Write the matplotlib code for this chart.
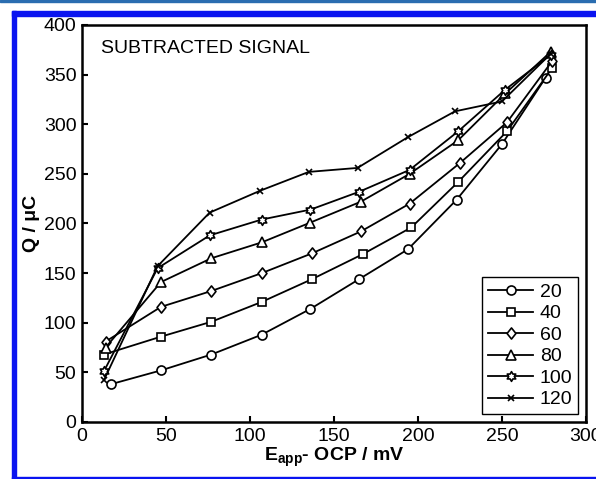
import numpy as np
import matplotlib
matplotlib.use("Agg")
import matplotlib.pyplot as plt
from matplotlib.patches import Rectangle
from matplotlib.path import Path

plt.rcParams['font.family'] = ['Liberation Sans', 'DejaVu Sans']
plt.rcParams['mathtext.fontset'] = 'custom'
plt.rcParams['mathtext.rm'] = 'Liberation Sans'
plt.rcParams['mathtext.bf'] = 'Liberation Sans:bold'

# values
x_20 = [17, 47, 77, 107, 136, 165, 194, 223, 250, 276]
q_20 = [38, 52, 68, 88, 114, 144, 174, 224, 280, 347]
x_40 = [13, 47, 77, 107, 137, 167, 196, 224, 253, 280]
q_40 = [68, 86, 101, 121, 144, 169, 196, 242, 293, 357]
x_60 = [14, 47, 77, 107, 137, 166, 195, 225, 253, 280]
q_60 = [81, 116, 132, 150, 170, 192, 220, 261, 302, 364]
x_80 = [14, 47, 77, 107, 136, 166, 195, 224, 252, 279]
q_80 = [75, 141, 165, 181, 201, 222, 250, 284, 331, 373]
x_100 = [13, 45, 76, 107, 136, 165, 195, 224, 252, 279]
q_100 = [51, 155, 188, 204, 214, 232, 254, 293, 335, 370]
x_120 = [13, 45, 76, 106, 135, 164, 194, 222, 250, 279]
q_120 = [42, 157, 211, 233, 252, 256, 287, 313, 323, 371]

labels = ['20', '40', '60', '80', '100', '120']


def closed_marker(pts):
    pts = list(pts) + [pts[0]]
    codes = [Path.MOVETO] + [Path.LINETO] * (len(pts) - 2) + [Path.CLOSEPOLY]
    return Path(pts, codes)


# star of David marker and a slightly narrow diamond
ang = np.deg2rad(90 + 30 * np.arange(12))
rad = np.where(np.arange(12) % 2 == 0, 1.0, 1 / np.sqrt(3))
hexagram = closed_marker(list(zip(rad * np.cos(ang), rad * np.sin(ang))))
diamond = closed_marker([(0, 1), (0.8, 0), (0, -1), (-0.8, 0)])

series = [
    (x_20, q_20, 'o', 6.5),
    (x_40, q_40, 's', 5.5),
    (x_60, q_60, diamond, 8),
    (x_80, q_80, '^', 7.5),
    (x_100, q_100, hexagram, 7),
    (x_120, q_120, 'x', 5),
]

fig = plt.figure(figsize=(5.96, 4.79), dpi=100)
ax = fig.add_axes([82 / 596, 57 / 479, 504 / 596, 397 / 479])

for (xs, qs, mk, ms), lab in zip(series, labels):
    ax.plot(xs, qs, color='black', lw=1.3, marker=mk, ms=ms,
            mfc='white', mec='black', mew=1.2, label=lab)

ax.set_xlim(0, 300)
ax.set_ylim(0, 400)
ax.set_xticks(np.arange(0, 301, 50))
ax.set_yticks(np.arange(0, 401, 50))
ax.tick_params(direction='in', length=4, width=1.5, labelsize=14,
               top=False, right=False, pad=4)
for s in ax.spines.values():
    s.set_linewidth(1.8)

ax.text(0.038, 0.942, 'SUBTRACTED SIGNAL', transform=ax.transAxes,
        fontsize=14, va='center', ha='left')
ax.set_xlabel(r'$\mathbf{E_{app}}$- OCP / mV', fontsize=14,
              fontweight='bold', labelpad=1)
ax.set_ylabel('Q / μC', fontsize=14, fontweight='bold', labelpad=3)

leg = ax.legend(loc='lower right', fontsize=14, handlelength=2.3,
                handletextpad=0.35, labelspacing=0.2, borderaxespad=0.4,
                borderpad=0.3, fancybox=False, edgecolor='black',
                framealpha=1)
leg.get_frame().set_linewidth(1.0)

# blue page frame around the figure
fig.patches.append(Rectangle((0, 477 / 479), 1, 2 / 479, transform=fig.transFigure,
                             color='#2a6db0', zorder=0))
fig.patches.append(Rectangle((12 / 596, 463 / 479), 584 / 596, 5 / 479,
                             transform=fig.transFigure, color='#0a14f0', zorder=0))
fig.patches.append(Rectangle((12 / 596, 0), 4 / 596, 468 / 479,
                             transform=fig.transFigure, color='#0a14f0', zorder=0))
fig.patches.append(Rectangle((12 / 596, 0), 584 / 596, 2 / 479,
                             transform=fig.transFigure, color='#0a14f0', zorder=0))

fig.savefig('out.png', dpi=100)
